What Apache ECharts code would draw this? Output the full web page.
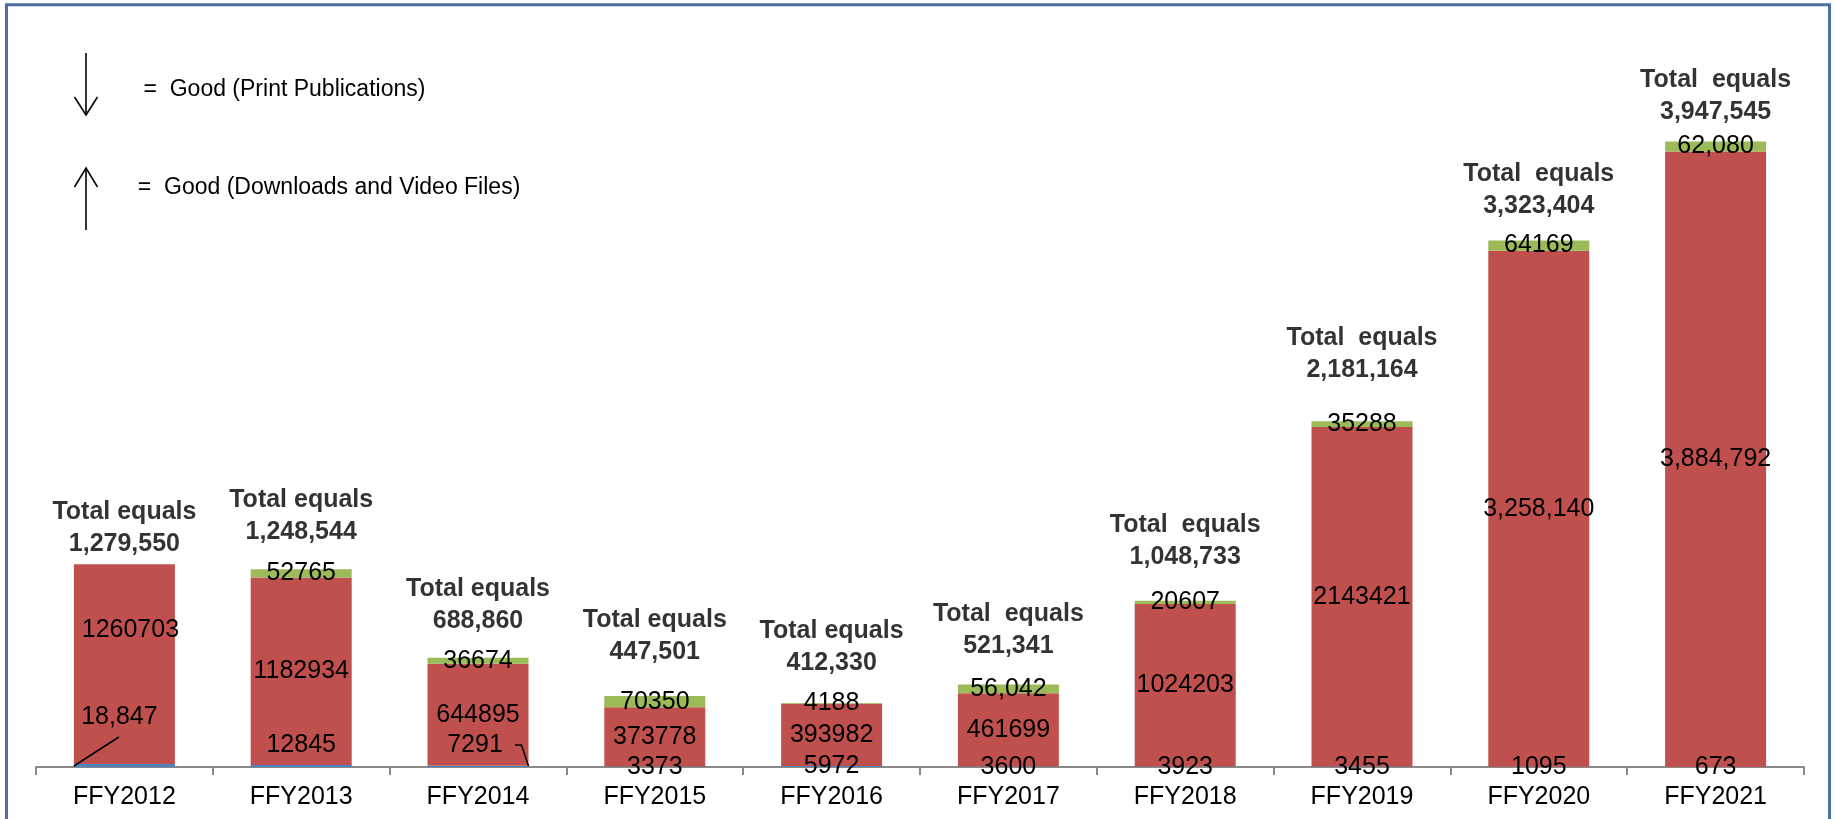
<!DOCTYPE html>
<html><head><meta charset="utf-8">
<script src="https://cdn.jsdelivr.net/npm/echarts@6/dist/echarts.min.js"></script>
<style>html,body{margin:0;padding:0;background:#fff;}#c{width:1835px;height:819px;}</style>
</head><body><div id="c"></div>
<script>
// ---- data ----
const categories = ['FFY2012','FFY2013','FFY2014','FFY2015','FFY2016','FFY2017','FFY2018','FFY2019','FFY2020','FFY2021'];
const printPublications = [18847, 12845, 7291, 3373, 5972, 3600, 3923, 3455, 1095, 673];
const downloads = [1260703, 1182934, 644895, 373778, 393982, 461699, 1024203, 2143421, 3258140, 3884792];
const videoFiles = [0, 52765, 36674, 70350, 4188, 56042, 20607, 35288, 64169, 62080];
const totals = [1279550, 1248544, 688860, 447501, 412330, 521341, 1048733, 2181164, 3323404, 3947545];
const totalCaptions = ['Total equals','Total equals','Total equals','Total equals','Total equals','Total  equals','Total  equals','Total  equals','Total  equals','Total  equals'];
// which labels the source prints with thousands separators
const printComma = [true,false,false,false,false,false,false,false,false,false];
const downloadsComma = [false,false,false,false,false,false,false,false,true,true];
const videoComma = [false,false,false,false,false,true,false,false,false,true];

// ---- font ----
function hasFont(name){
  const c = document.createElement('canvas').getContext('2d');
  const t = 'FFY2012 Total equals 1234567890';
  c.font = '40px monospace'; const a = c.measureText(t).width;
  c.font = '40px "' + name + '", monospace'; const b = c.measureText(t).width;
  return Math.abs(a - b) > 0.5;
}
let FONT = 'Liberation Sans';
if (hasFont('Liberation Sans Narrow')) FONT = 'Liberation Sans Narrow';
else if (hasFont('Arial Narrow')) FONT = 'Arial Narrow';
const FS = 25;
const LEGEND_FS = 23;

const fmt = (v, comma) => comma ? v.toLocaleString('en-US') : String(v);

// label layout tweaks (pixels)
const totalLabelDistance = [4, 21, 21, 28, 23, 22, 28, 35, 18, 14];
const BAR_W = 101;

const chart = echarts.init(document.getElementById('c'), null, {renderer: 'canvas'});

const baseLabel = {show: true, position: 'inside', color: '#000', fontSize: FS, fontFamily: FONT};

const option = {
  animation: false,
  backgroundColor: '#fff',
  grid: {left: 36, right: 31, top: 133.3, bottom: 52, containLabel: false},
  xAxis: {
    type: 'category', data: categories,
    axisLine: {lineStyle: {color: '#898989', width: 2}},
    axisTick: {show: true, length: 8, lineStyle: {color: '#898989', width: 2}},
    axisLabel: {color: '#000', fontSize: FS, fontFamily: FONT, margin: 18}
  },
  yAxis: {type: 'value', min: 0, max: 4000000, show: false, splitLine: {show: false}},
  series: [
    {
      name: 'Print Publications', type: 'bar', stack: 'a', barWidth: BAR_W,
      itemStyle: {color: '#4F81BD'},
      label: Object.assign({}, baseLabel, {formatter: p => fmt(p.value, printComma[p.dataIndex])}),
      data: printPublications.map((v, i) => {
        const d = {value: v};
        if (i === 0) d.label = {offset: [-5, -48]};
        if (i === 1) d.label = {offset: [0, -21]};
        if (i === 2) d.label = {offset: [-3, -21]};
        return d;
      })
    },
    {
      name: 'Downloads', type: 'bar', stack: 'a', barWidth: BAR_W,
      itemStyle: {color: '#C0504D'},
      label: Object.assign({}, baseLabel, {formatter: p => fmt(p.value, downloadsComma[p.dataIndex])}),
      data: downloads.map((v, i) => i === 0 ? {value: v, label: {offset: [6, -34]}} : v)
    },
    {
      name: 'Video Files', type: 'bar', stack: 'a', barWidth: BAR_W,
      itemStyle: {color: '#9BBB59'},
      label: Object.assign({}, baseLabel, {formatter: p => p.value ? fmt(p.value, videoComma[p.dataIndex]) : ''}),
      data: videoFiles
    },
    {
      name: 'Total', type: 'scatter', symbolSize: 0, z: 10,
      label: {
        show: true, position: 'top', color: '#000', fontSize: FS, fontFamily: FONT,
        fontWeight: 'bold', lineHeight: 32, align: 'center',
        formatter: p => totalCaptions[p.dataIndex] + '\n' + p.value.toLocaleString('en-US')
      },
      data: totals.map((v, i) => ({value: v, label: {distance: totalLabelDistance[i]}}))
    }
  ]
};
chart.setOption(option);

// annotations: legend arrows/texts, border, leader lines computed from the axes
function leaderLines(){
  const p0 = chart.convertToPixel({xAxisIndex: 0, yAxisIndex: 0}, [0, 0]);
  const p2 = chart.convertToPixel({xAxisIndex: 0, yAxisIndex: 0}, [2, 0]);
  const l0 = [p0[0] - BAR_W / 2, p0[1] - 1];
  const r2 = [p2[0] + BAR_W / 2, p2[1] - 1];
  return [
    {type: 'polyline', z: 20, shape: {points: [l0, [l0[0] + 45, l0[1] - 29]]}, style: {stroke: '#000', lineWidth: 1.5, fill: null}},
    {type: 'polyline', z: 20, shape: {points: [[r2[0] - 13.5, r2[1] - 21], [r2[0] - 7, r2[1] - 21], [r2[0], r2[1]]]}, style: {stroke: '#000', lineWidth: 1.5, fill: null}}
  ];
}
const arrowStyle = {stroke: '#000', lineWidth: 1.6, fill: null};
chart.setOption({
  graphic: [
    {type: 'rect', z: 30, shape: {x: 6.5, y: 4.7, width: 1823, height: 900}, style: {fill: null, stroke: '#4A6FA0', lineWidth: 3}},
    {type: 'polyline', shape: {points: [[86, 53], [86, 115]]}, style: arrowStyle},
    {type: 'polyline', shape: {points: [[74.5, 97], [86, 115], [97.5, 97]]}, style: arrowStyle},
    {type: 'polyline', shape: {points: [[86, 168], [86, 230]]}, style: arrowStyle},
    {type: 'polyline', shape: {points: [[74.5, 187], [86, 168], [97.5, 187]]}, style: arrowStyle},
    {type: 'text', x: 143.5, y: 90, style: {text: '=  Good (Print Publications)', fontSize: LEGEND_FS, fontFamily: FONT, fill: '#000', verticalAlign: 'middle', align: 'left'}},
    {type: 'text', x: 137.8, y: 188, style: {text: '=  Good (Downloads and Video Files)', fontSize: LEGEND_FS, fontFamily: FONT, fill: '#000', verticalAlign: 'middle', align: 'left'}}
  ].concat(leaderLines())
});
</script></body></html>
